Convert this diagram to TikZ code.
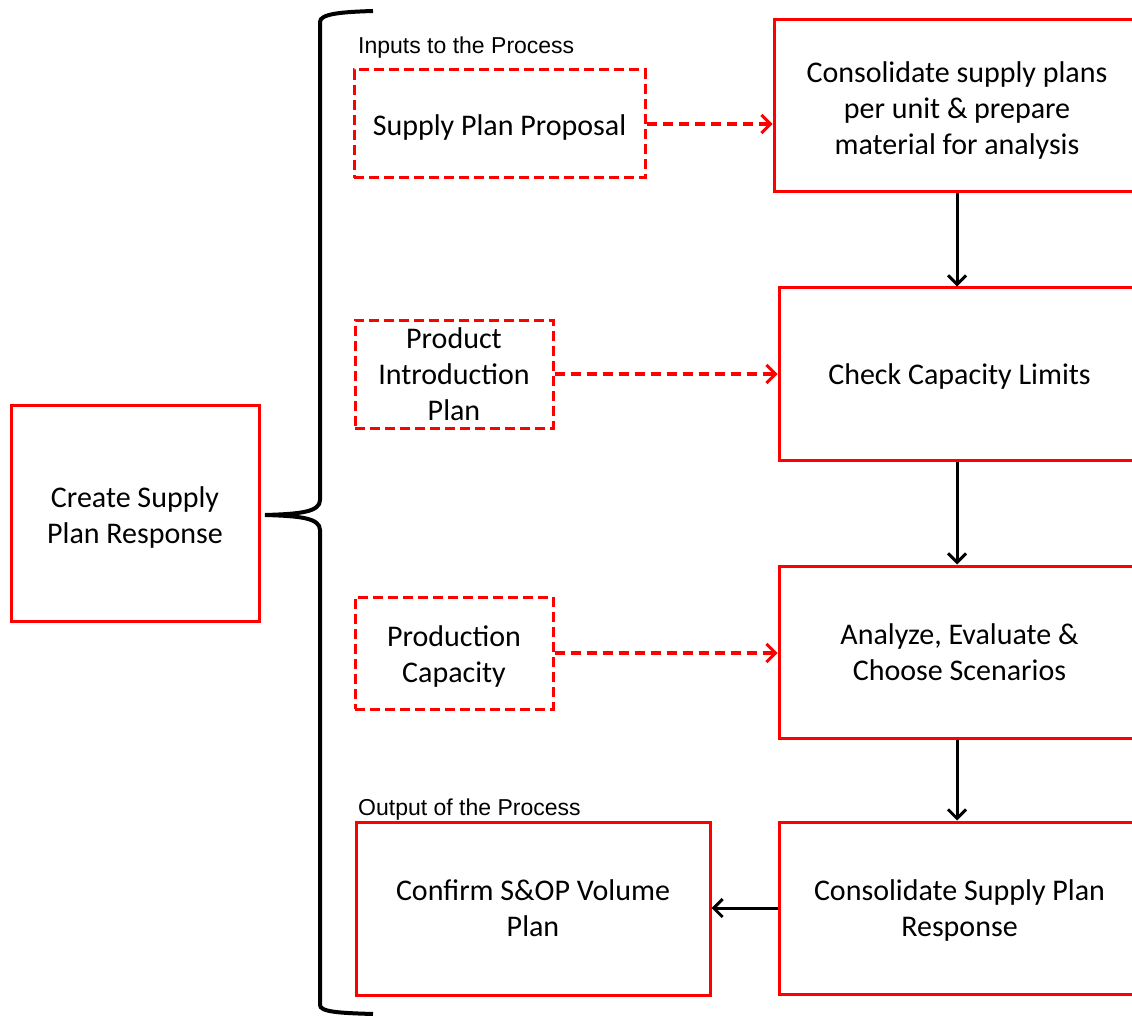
\documentclass[tikz,border=0pt]{standalone}
\usepackage{fontspec}
\setmainfont{Carlito}
\newfontfamily\arialfont{Liberation Sans}
\usetikzlibrary{arrows.meta}
\newcommand{\topstrut}[1]{\rule{0pt}{#1pt}}
\tikzset{
  box/.style={draw=red, line width=3pt, rectangle, align=center, inner sep=0pt,
    font={\fontsize{30}{36}\selectfont}},
  inbox/.style={box, dashed, dash pattern=on 10pt off 5pt},
  flow/.style={line width=3pt, -{Straight Barb[length=9pt,width=18pt,line width=3pt]}},
  inflow/.style={draw=red, line width=3.5pt, dash pattern=on 10pt off 6pt,
    -{Straight Barb[length=9pt,width=18pt,line width=3pt]}},
  caption/.style={font={\arialfont\fontsize{23}{26}\selectfont}, anchor=west, inner sep=0pt},
}
\begin{document}
\begin{tikzpicture}[x=1pt,y=-1pt]
\useasboundingbox (0,0) rectangle (1132,1016);
\clip (0,0) rectangle (1132,1016);
\node[box, minimum width=248pt, minimum height=216pt] (create) at (135,513) {\topstrut{29}Create Supply\\Plan Response};
\node[inbox, minimum width=291pt, minimum height=108pt] (spp) at (499.5,124) {\topstrut{27}Supply Plan Proposal};
\node[inbox, minimum width=198pt, minimum height=108pt] (pip) at (454,374) {Product\\Introduction\\Plan};
\node[inbox, minimum width=198pt, minimum height=112pt] (pc) at (454,653) {\topstrut{28}Production\\Capacity};
\node[box, minimum width=354pt, minimum height=173pt] (conf) at (533,908.5) {Confirm S\&OP Volume\\Plan};
\node[box, minimum width=366pt, minimum height=172pt] (b1) at (957,106) {\topstrut{30}Consolidate supply plans\\per unit \& prepare\\material for analysis};
\node[box, minimum width=361pt, minimum height=172pt] (b2) at (959.5,374) {\topstrut{26}Check Capacity Limits};
\node[box, minimum width=361pt, minimum height=172pt] (b3) at (959.5,652) {Analyze, Evaluate \&\\Choose Scenarios};
\node[box, minimum width=361pt, minimum height=172pt] (b4) at (959.5,908) {\topstrut{26}Consolidate Supply Plan\\Response};
\node[caption] (inlbl) at (358,48) {Inputs to the Process};
\node[caption] (outlbl) at (358,810) {Output of the Process};
% brace
\coordinate (bt) at (373,11);
\coordinate (bb) at (373,1014);
\coordinate (btip) at (265,515);
\draw[line width=4pt] (bt) .. controls (340,12) and (320,14) .. (320,22)
  -- (320,500) .. controls (320,512) and (300,514) .. (btip)
  .. controls (300,516) and (320,518) .. (320,530)
  -- (320,1005) .. controls (320,1012) and (340,1013) .. (bb);
% arrows
\draw[flow] (b1.south) -- (b1.south |- b2.north);
\draw[flow] (b2.south -| b1.south) -- (b1.south |- b3.north);
\draw[flow] (b3.south -| b1.south) -- (b1.south |- b4.north);
\draw[flow] (b4.west) -- (conf.east |- b4.west);
\draw[inflow] (spp.east) -- (b1.west |- spp.east);
\draw[inflow] (pip.east) -- (b2.west |- pip.east);
\draw[inflow] (pc.east) -- (b3.west |- pc.east);
\end{tikzpicture}
\end{document}
